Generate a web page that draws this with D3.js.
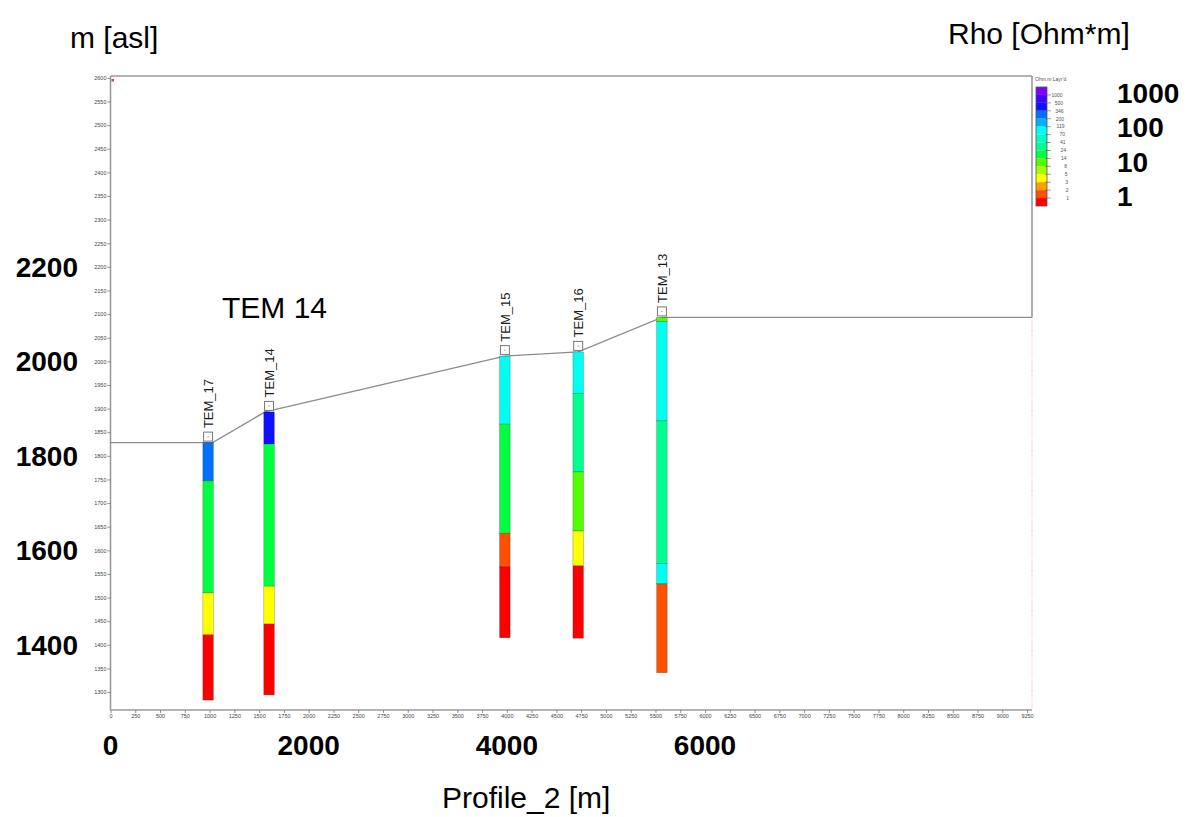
<!DOCTYPE html>
<html><head><meta charset="utf-8">
<script src="https://cdn.jsdelivr.net/npm/d3@7"></script>
<style>body{margin:0;background:#fff}svg{display:block}</style>
</head><body>
<svg id="c" width="1190" height="817"></svg>
<script>
// ---------- data ----------
const stations = ["TEM_17","TEM_14","TEM_15","TEM_16","TEM_13"];
const stationX = [985, 1600, 3980, 4720, 5565];
const layerTops = [
  [1828,1747,1510,1421],
  [1893,1825,1524,1444],
  [2011,1867,1636,1565],
  [2020,1932,1766,1641,1567],
  [2093,2084,1874,1572,1529]
];
const layerBottoms = [1283,1294,1415,1414,1341];
const layerRho = [
  [250,18,4,0.8],
  [400,18,4,0.8],
  [90,18,1.5,0.8],
  [90,30,10,4,0.8],
  [10,90,30,90,1.5]
];
const topoX = [0,1030,1560,3980,4720,5565,9300];
const topoZ = [1828,1828,1893,2011,2020,2093,2093];
const legendBreaks = [1000,500,346,200,119,70,41,24,14,8,5,3,2,1];
const legendColors = ["#8000ff","#4000ff","#1010ff","#0070ff","#00b0ff","#00fff0","#00ffc8","#00ff90","#00ff40","#50ff00","#a0ff00","#ffff00","#ffa000","#ff5000","#ff0000"];
const yTicks = d3.range(1300, 2601, 50);
const xTicks = d3.range(0, 9251, 250);
const bigYLabels = [2200,2000,1800,1600,1400];
const bigXLabels = [0,2000,4000,6000];
const bigLegendLabels = [1000,100,10,1];

// ---------- layout ----------
const svg = d3.select("#c");
const L = 110.5, R = 1032, T = 76, B = 710;
const x = d3.scaleLinear().domain([0, 9300]).range([L, R]);
const y = d3.scaleLinear().domain([1262, 2604]).range([B, T]);
const frameCol = "#9a9a9a";
const font = "'Liberation Sans', Arial, sans-serif";

const thr = legendBreaks.slice().reverse();
const color = d3.scaleThreshold().domain(thr).range(legendColors.slice().reverse());

// frame
svg.append("line").attr("x1", L).attr("x2", R).attr("y1", T).attr("y2", T)
  .attr("stroke", frameCol).attr("stroke-width", 1.6);
svg.append("line").attr("x1", R).attr("x2", R).attr("y1", T).attr("y2", y(2093))
  .attr("stroke", frameCol).attr("stroke-width", 1.6);
svg.append("line").attr("x1", R).attr("x2", R).attr("y1", y(2093)).attr("y2", B)
  .attr("stroke", "#f2a8a8").attr("stroke-width", 1).attr("stroke-dasharray", "1,1.5");

// axes
const fmt = d3.format("d");
const ya = svg.append("g").attr("transform", `translate(${L},0)`)
  .call(d3.axisLeft(y).tickValues(yTicks).tickFormat(fmt).tickSize(3).tickPadding(1).tickSizeOuter(0));
const xa = svg.append("g").attr("transform", `translate(0,${B})`)
  .call(d3.axisBottom(x).tickValues(xTicks).tickFormat(fmt).tickSize(3).tickPadding(1).tickSizeOuter(0));
[ya, xa].forEach(g => {
  g.select(".domain").attr("stroke", frameCol).attr("stroke-width", 1.6);
  g.selectAll(".tick line").attr("stroke", "#777").attr("stroke-width", 0.8);
  g.selectAll(".tick text").attr("fill", "#444").style("font-size", "5.5px").style("font-family", font);
});
ya.select(".domain").attr("d", `M0,${T}V${B}`);
xa.select(".domain").attr("d", `M${L},0H${R}`);

// red corner mark
svg.append("rect").attr("x", L + 1).attr("y", T + 3).attr("width", 2.5).attr("height", 2.5).attr("fill", "#ff3030");

// topography
svg.append("path")
  .datum(topoX.map((v, i) => [v, topoZ[i]]))
  .attr("fill", "none").attr("stroke", "#8c8c8c").attr("stroke-width", 1.3)
  .attr("d", d3.line().x(d => x(d[0])).y(d => y(d[1])));

// soundings
const colW = 10.5;
stations.forEach((name, i) => {
  const cx = x(stationX[i]);
  const g = svg.append("g");
  const tops = layerTops[i];
  tops.forEach((tz, j) => {
    const bz = j < tops.length - 1 ? tops[j + 1] : layerBottoms[i];
    g.append("rect")
      .attr("x", cx - colW / 2).attr("y", y(tz))
      .attr("width", colW).attr("height", y(bz) - y(tz))
      .attr("fill", color(layerRho[i][j]))
      .attr("stroke", "rgba(0,0,0,0.35)").attr("stroke-width", 0.6);
  });
  const sq = 9;
  const sy = y(tops[0]) - 1.5 - sq;
  g.append("rect").attr("x", cx - sq / 2).attr("y", sy).attr("width", sq).attr("height", sq)
    .attr("fill", "#fff").attr("stroke", "#777").attr("stroke-width", 1);
  g.append("rect").attr("x", cx - 0.6).attr("y", sy + sq / 2 - 0.6).attr("width", 1.2).attr("height", 1.2).attr("fill", "#999");
  g.append("text")
    .attr("transform", `translate(${cx + 5},${sy - 4}) rotate(-90)`)
    .attr("font-family", font).attr("font-size", 13).attr("fill", "#1a1a1a")
    .text(name);
});

// legend
const lgX = 1036, lgY0 = 87, lgY1 = 206, lgW = 11;
const cellH = (lgY1 - lgY0) / legendColors.length;
svg.append("text").attr("x", 1035).attr("y", 81).attr("font-family", font)
  .attr("font-size", 5).attr("fill", "#555").text("Ohm.m Layr'd");
legendColors.forEach((c, k) => {
  svg.append("rect").attr("x", lgX).attr("y", lgY0 + k * cellH).attr("width", lgW).attr("height", cellH)
    .attr("fill", c);
});
svg.append("rect").attr("x", lgX).attr("y", lgY0).attr("width", lgW).attr("height", lgY1 - lgY0)
  .attr("fill", "none").attr("stroke", "#555").attr("stroke-width", 0.8);
legendBreaks.forEach((v, k) => {
  const yy = lgY0 + (k + 1) * cellH;
  svg.append("line").attr("x1", lgX + lgW - 2).attr("x2", lgX + lgW + 4).attr("y1", yy).attr("y2", yy)
    .attr("stroke", "#555").attr("stroke-width", 0.6);
  svg.append("text").attr("x", 1062.5 + k * 0.5).attr("y", yy + 1.8).attr("text-anchor", "end")
    .attr("font-family", font).attr("font-size", 5).attr("fill", "#555").text(v);
});

// big labels
const ly = d3.scaleLog().domain([1, 1000]).range([196, 93]);
bigLegendLabels.forEach(v => {
  svg.append("text").attr("x", 1117).attr("y", ly(v) + 10)
    .attr("font-family", font).attr("font-weight", "bold").attr("font-size", 28).attr("fill", "#000").text(v);
});
bigYLabels.forEach(v => {
  svg.append("text").attr("x", 78).attr("y", y(v) + 10).attr("text-anchor", "end")
    .attr("font-family", font).attr("font-weight", "bold").attr("font-size", 28).attr("fill", "#000").text(v);
});
bigXLabels.forEach(v => {
  svg.append("text").attr("x", x(v)).attr("y", 755).attr("text-anchor", "middle")
    .attr("font-family", font).attr("font-weight", "bold").attr("font-size", 28).attr("fill", "#000").text(v);
});
const titles = [
  {t: "m [asl]", x: 70, y: 48},
  {t: "Rho [Ohm*m]", x: 948, y: 44},
  {t: "Profile_2 [m]", x: 442, y: 808},
  {t: "TEM 14", x: 222, y: 318}
];
titles.forEach(d => {
  svg.append("text").attr("x", d.x).attr("y", d.y).attr("font-family", font)
    .attr("font-size", 30).attr("fill", "#000").text(d.t);
});
</script>
</body></html>
